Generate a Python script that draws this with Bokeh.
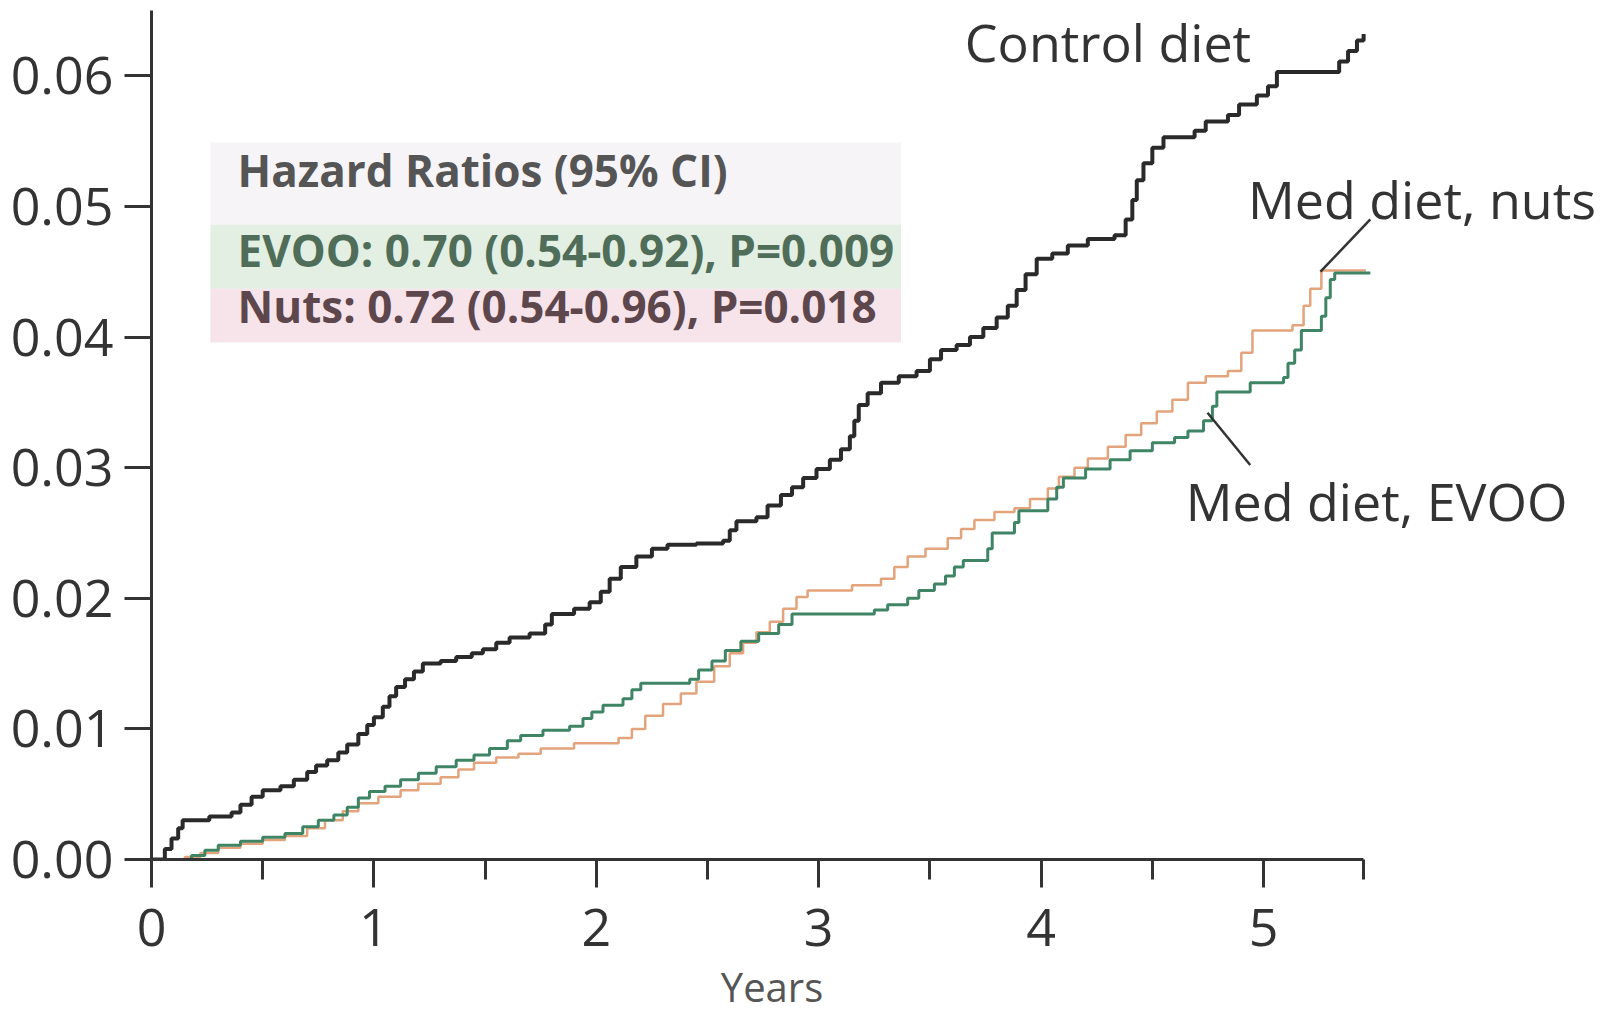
from bokeh.plotting import figure
from bokeh.models import (Range1d, FixedTicker, PrintfTickFormatter, Label,
                          BoxAnnotation, ColumnDataSource, LinearAxis)
from bokeh.embed import file_html
from bokeh.resources import INLINE

# Cumulative incidence (step curves), years of follow-up
control_t = [0.00, 0.06, 0.09, 0.12, 0.14, 0.26, 0.36, 0.40, 0.45, 0.50, 0.58, 0.64,
             0.70, 0.74, 0.79, 0.84, 0.88, 0.93, 0.97, 1.00, 1.04, 1.07, 1.10, 1.14,
             1.18, 1.22, 1.30, 1.37, 1.44, 1.49, 1.55, 1.61, 1.70, 1.77, 1.80, 1.90,
             1.97, 2.02, 2.06, 2.11, 2.18, 2.25, 2.32, 2.45, 2.57, 2.60, 2.63, 2.72,
             2.77, 2.83, 2.88, 2.93, 2.99, 3.05, 3.10, 3.14, 3.16, 3.18, 3.22, 3.28,
             3.36, 3.44, 3.50, 3.55, 3.62, 3.68, 3.74, 3.80, 3.85, 3.89, 3.93, 3.98,
             4.05, 4.12, 4.21, 4.33, 4.38, 4.41, 4.43, 4.46, 4.50, 4.55, 4.69, 4.74,
             4.84, 4.89, 4.97, 5.02, 5.06, 5.34, 5.38, 5.42, 5.45]
control_v = [0.0000, 0.0008, 0.0016, 0.0024, 0.0030, 0.0033, 0.0036, 0.0042, 0.0048,
             0.0053, 0.0056, 0.0061, 0.0067, 0.0072, 0.0076, 0.0082, 0.0088, 0.0096,
             0.0103, 0.0109, 0.0117, 0.0125, 0.0132, 0.0138, 0.0144, 0.0150, 0.0152,
             0.0155, 0.0158, 0.0161, 0.0166, 0.0170, 0.0173, 0.0180, 0.0188, 0.0192,
             0.0197, 0.0205, 0.0215, 0.0224, 0.0232, 0.0238, 0.0241, 0.0242, 0.0244,
             0.0252, 0.0259, 0.0262, 0.0271, 0.0279, 0.0285, 0.0292, 0.0299, 0.0306,
             0.0314, 0.0324, 0.0336, 0.0348, 0.0357, 0.0365, 0.0370, 0.0374, 0.0383,
             0.0390, 0.0394, 0.0400, 0.0407, 0.0415, 0.0424, 0.0436, 0.0448, 0.0460,
             0.0464, 0.0470, 0.0475, 0.0478, 0.0490, 0.0505, 0.0520, 0.0533, 0.0545,
             0.0553, 0.0558, 0.0565, 0.0570, 0.0578, 0.0585, 0.0592, 0.0603, 0.0611,
             0.0619, 0.0627, 0.0632]

evoo_t = [0.00, 0.18, 0.24, 0.30, 0.40, 0.50, 0.60, 0.68, 0.75, 0.82, 0.88, 0.93,
          0.98, 1.05, 1.12, 1.20, 1.28, 1.37, 1.45, 1.52, 1.60, 1.66, 1.76, 1.88,
          1.94, 1.98, 2.03, 2.12, 2.16, 2.20, 2.42, 2.46, 2.52, 2.58, 2.65, 2.73,
          2.82, 2.88, 3.25, 3.31, 3.40, 3.45, 3.52, 3.57, 3.61, 3.65, 3.76, 3.78,
          3.88, 3.90, 4.03, 4.07, 4.10, 4.20, 4.31, 4.40, 4.50, 4.60, 4.66, 4.73,
          4.77, 4.79, 4.94, 5.09, 5.11, 5.14, 5.17, 5.26, 5.28, 5.30, 5.32, 5.48]
evoo_v = [0.0000, 0.0003, 0.0007, 0.0011, 0.0014, 0.0017, 0.0020, 0.0025, 0.0030,
          0.0034, 0.0040, 0.0047, 0.0052, 0.0056, 0.0061, 0.0066, 0.0071, 0.0076,
          0.0080, 0.0085, 0.0091, 0.0095, 0.0099, 0.0102, 0.0108, 0.0113, 0.0118,
          0.0123, 0.0130, 0.0135, 0.0138, 0.0145, 0.0152, 0.0160, 0.0167, 0.0173,
          0.0180, 0.0188, 0.0191, 0.0195, 0.0200, 0.0206, 0.0211, 0.0217, 0.0224,
          0.0229, 0.0238, 0.0250, 0.0258, 0.0267, 0.0276, 0.0285, 0.0292, 0.0299,
          0.0306, 0.0313, 0.0319, 0.0323, 0.0328, 0.0336, 0.0347, 0.0358, 0.0365,
          0.0369, 0.0380, 0.0390, 0.0405, 0.0416, 0.0430, 0.0444, 0.0449, 0.0449]

nuts_t = [0.00, 0.15, 0.22, 0.30, 0.40, 0.50, 0.60, 0.70, 0.78, 0.86, 0.93, 1.02,
          1.12, 1.20, 1.30, 1.38, 1.45, 1.55, 1.65, 1.75, 1.90, 2.10, 2.16, 2.22,
          2.30, 2.38, 2.45, 2.53, 2.60, 2.66, 2.72, 2.78, 2.84, 2.90, 2.95, 3.15,
          3.28, 3.34, 3.40, 3.48, 3.58, 3.64, 3.70, 3.79, 3.88, 3.95, 4.03, 4.08,
          4.15, 4.21, 4.30, 4.38, 4.45, 4.52, 4.59, 4.66, 4.74, 4.84, 4.90, 4.95,
          5.13, 5.18, 5.21, 5.26, 5.46]
nuts_v = [0.0000, 0.0002, 0.0005, 0.0009, 0.0012, 0.0015, 0.0018, 0.0024, 0.0030,
          0.0037, 0.0043, 0.0048, 0.0053, 0.0058, 0.0063, 0.0069, 0.0074, 0.0078,
          0.0081, 0.0085, 0.0089, 0.0093, 0.0100, 0.0110, 0.0119, 0.0127, 0.0136,
          0.0148, 0.0158, 0.0166, 0.0174, 0.0182, 0.0192, 0.0201, 0.0206, 0.0210,
          0.0215, 0.0224, 0.0232, 0.0238, 0.0246, 0.0253, 0.0260, 0.0266, 0.0269,
          0.0276, 0.0284, 0.0293, 0.0300, 0.0307, 0.0316, 0.0325, 0.0334, 0.0343,
          0.0352, 0.0365, 0.0370, 0.0374, 0.0388, 0.0405, 0.0409, 0.0424, 0.0437,
          0.0451, 0.0451]

x_ticks = [0, 1, 2, 3, 4, 5]
x_minor = [0.5, 1.5, 2.5, 3.5, 4.5, 5.45]
y_ticks = [0.00, 0.01, 0.02, 0.03, 0.04, 0.05, 0.06]
x_title = "Years"
x_title_pos = 2.79

legend_lines = ["Hazard Ratios (95% CI)",
                "EVOO: 0.70 (0.54-0.92), P=0.009",
                "Nuts: 0.72 (0.54-0.96), P=0.018"]

FONT = "Open Sans"
INK = "#333333"

p = figure(width=1604, height=1016, output_backend="svg", toolbar_location=None,
           x_range=Range1d(0, 6.533), y_range=Range1d(0, 0.065),
           min_border_left=151, min_border_right=0, min_border_top=10,
           min_border_bottom=157)
p.outline_line_color = None
p.xgrid.visible = False
p.ygrid.visible = False
p.background_fill_color = "white"

# axes crossing at the origin, ticks pointing outward
p.xaxis.ticker = FixedTicker(ticks=x_ticks, minor_ticks=x_minor)
p.xaxis.bounds = (0, 5.45)
p.yaxis.ticker = FixedTicker(ticks=y_ticks, minor_ticks=[])
p.yaxis.bounds = (0, 0.065)
p.yaxis.formatter = PrintfTickFormatter(format="%.2f")
for ax in (p.xaxis, p.yaxis):
    ax.axis_line_color = INK
    ax.axis_line_width = 3
    ax.major_tick_line_color = INK
    ax.major_tick_line_width = 3
    ax.minor_tick_line_color = INK
    ax.minor_tick_line_width = 3
    ax.major_tick_in = 0
    ax.minor_tick_in = 0
    ax.major_label_text_font = FONT
    ax.major_label_text_font_size = "52px"
    ax.major_label_text_color = INK
p.xaxis.major_tick_out = 28
p.xaxis.minor_tick_out = 20
p.xaxis.major_label_standoff = 21
p.yaxis.major_tick_out = 27
p.yaxis.major_label_standoff = 11

# x-axis title as a bare second axis under the first, centred on the data span
title_axis = LinearAxis(ticker=FixedTicker(ticks=[x_title_pos], minor_ticks=[]),
                        major_label_overrides={x_title_pos: x_title},
                        axis_line_color=None, major_tick_line_color=None,
                        minor_tick_line_color=None, major_tick_out=0,
                        major_tick_in=0, minor_tick_out=0, minor_tick_in=0,
                        major_label_standoff=10,
                        major_label_text_font=FONT,
                        major_label_text_font_size="40px",
                        major_label_text_color="#555555")
p.add_layout(title_axis, "below")

# legend panel with hazard ratios
p.add_layout(BoxAnnotation(left=0.265, right=3.37, bottom=0.0396, top=0.0549,
                           fill_color="#f6f4f6", fill_alpha=1.0, line_color=None,
                           level="underlay"))
p.add_layout(BoxAnnotation(left=0.265, right=3.37, bottom=0.0437, top=0.0486,
                           fill_color="#e2efe2", fill_alpha=1.0, line_color=None,
                           level="underlay"))
p.add_layout(BoxAnnotation(left=0.265, right=3.37, bottom=0.0396, top=0.0437,
                           fill_color="#f6e4ea", fill_alpha=1.0, line_color=None,
                           level="underlay"))
legend_colors = ["#555555", "#4f6d58", "#5e464d"]
legend_y = [0.0528, 0.0467, 0.0424]
for txt, col, yy in zip(legend_lines, legend_colors, legend_y):
    p.add_layout(Label(x=0.387, y=yy, text=txt, text_font=FONT,
                       text_font_size="44px", text_font_style="bold",
                       text_color=col, text_baseline="middle", text_align="left"))

# survival step curves
p.step(nuts_t, nuts_v, mode="after", line_color="#e3a47c", line_width=2.5)
p.step(evoo_t, evoo_v, mode="after", line_color="#3f8565", line_width=3)
p.step(control_t, control_v, mode="after", line_color="#2a2a2a", line_width=4)

# curve labels and leader lines
p.add_layout(Label(x=3.657, y=0.0626, text="Control diet", text_font=FONT,
                   text_font_size="52px", text_color=INK, text_baseline="middle"))
p.add_layout(Label(x=4.93, y=0.0506, text="Med diet, nuts", text_font=FONT,
                   text_font_size="52px", text_color=INK, text_baseline="middle"))
p.add_layout(Label(x=4.65, y=0.0275, text="Med diet, EVOO", text_font=FONT,
                   text_font_size="52px", text_color=INK, text_baseline="middle"))
leaders = ColumnDataSource(dict(x0=[5.256, 4.748], y0=[0.0450, 0.0342],
                                x1=[5.48, 4.94], y1=[0.0490, 0.0302]))
p.segment("x0", "y0", "x1", "y1", source=leaders, line_color=INK, line_width=2.5)

open("out.html", "w").write(file_html(p, INLINE))
